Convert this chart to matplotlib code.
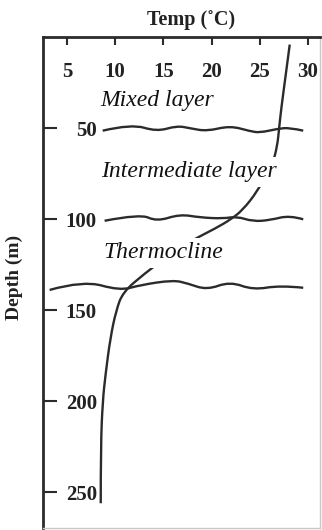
import numpy as np
import matplotlib.pyplot as plt
from matplotlib.path import Path
from matplotlib.patches import PathPatch

# temperature profile (deg C) against depth (m)
prof_depth = [4, 20, 40, 50, 60, 70, 85, 95, 100, 105, 112, 120, 130, 140, 150, 165, 185, 200, 225, 256]
prof_temp = [28.1, 27.7, 27.2, 27.0, 26.8, 26.3, 24.7, 23.2, 22.0, 20.4, 17.8, 15.5, 13.0, 10.8, 10.1, 9.5, 9.0, 8.7, 8.5, 8.5]

# wavy layer boundaries (temp position, depth)
wave1_t = [8.7, 11.7, 14.3, 16.4, 17.8, 19.5, 21.9, 24.0, 25.0, 26.8, 28.1, 29.5]
wave1_d = [51.3, 47.6, 51.8, 48.6, 50.0, 51.6, 48.6, 51.6, 52.4, 50.3, 49.6, 51.3]
wave2_t = [8.9, 12.6, 14.3, 16.7, 18.8, 21.2, 22.6, 24.3, 26.1, 28.1, 29.5]
wave2_d = [100.8, 97.0, 101.2, 97.2, 99.0, 99.6, 98.4, 101.2, 100.4, 97.8, 100.0]
wave3_t = [3.2, 6.7, 10.5, 12.6, 16.0, 17.5, 19.5, 21.9, 24.3, 27.1, 29.5]
wave3_d = [138.8, 133.6, 139.2, 136.1, 133.4, 135.2, 138.8, 134.2, 138.8, 136.3, 137.6]

temp_ticks = [5, 10, 15, 20, 25, 30]
depth_ticks = [50, 100, 150, 200, 250]

layer_names = ['Mixed layer', 'Intermediate layer', 'Thermocline']
layer_t = [14.4, 17.6, 15.0]
layer_d = [34.6, 74.0, 118.5]

ink = '#2b2b2b'
plt.rcParams['font.family'] = ['Liberation Serif', 'DejaVu Serif']


def smooth_path(xs, ys):
    # quadratic bezier through midpoints, using the points as controls
    pts = list(zip(xs, ys))
    verts = [pts[0]]
    codes = [Path.MOVETO]
    for i in range(1, len(pts) - 1):
        mid = ((pts[i][0] + pts[i + 1][0]) / 2, (pts[i][1] + pts[i + 1][1]) / 2)
        if i == len(pts) - 2:
            mid = pts[-1]
        verts += [pts[i], mid]
        codes += [Path.CURVE3, Path.CURVE3]
    return Path(verts, codes)


fig = plt.figure(figsize=(3.22, 5.30), dpi=100)
ax = fig.add_axes([0.1326, 0.0038, 0.8612, 0.9258])

ax.set_xlim(2.48, 31.24)
ax.set_ylim(269.6, 0)

for wt, wd in [(wave1_t, wave1_d), (wave2_t, wave2_d), (wave3_t, wave3_d)]:
    ax.add_patch(PathPatch(smooth_path(wt, wd), fc='none', ec=ink, lw=1.7,
                           zorder=2, transform=ax.transData))

ax.add_patch(PathPatch(smooth_path(prof_temp, prof_depth), fc='none', ec=ink,
                       lw=1.7, zorder=2, transform=ax.transData))

for name, t, d in zip(layer_names, layer_t, layer_d):
    ax.text(t, d, name, style='italic', fontsize=17, ha='center', va='center',
            color='#111111', zorder=4,
            bbox=dict(fc='white', ec='none', pad=3))

ax.xaxis.tick_top()
ax.set_xticks(temp_ticks)
ax.set_xticklabels([str(v) for v in temp_ticks])
ax.tick_params(axis='x', direction='in', length=6, width=1.5, color=ink,
               pad=-32, labelsize=15, labelcolor='#222222')
ax.set_yticks(depth_ticks)
ax.set_yticklabels([str(v) for v in depth_ticks])
ax.tick_params(axis='y', direction='in', length=10, width=1.5, color=ink,
               pad=-39, labelsize=15, labelcolor='#222222')
for lab in ax.get_xticklabels() + ax.get_yticklabels():
    lab.set_fontweight('bold')

for side in ['left', 'top']:
    ax.spines[side].set_color(ink)
    ax.spines[side].set_linewidth(2)
for side in ['right', 'bottom']:
    ax.spines[side].set_color('#c8c8c8')
    ax.spines[side].set_linewidth(1)

fig.text(191 / 322, 1 - 20 / 530, 'Temp (˚C)', ha='center', va='center',
         fontsize=14.5, fontweight='bold', color='#222222')
fig.text(14 / 322, 1 - 277 / 530, 'Depth (m)', ha='center', va='center',
         rotation=90, fontsize=14, fontweight='bold', color='#222222')

fig.savefig('out.png', dpi=100)
